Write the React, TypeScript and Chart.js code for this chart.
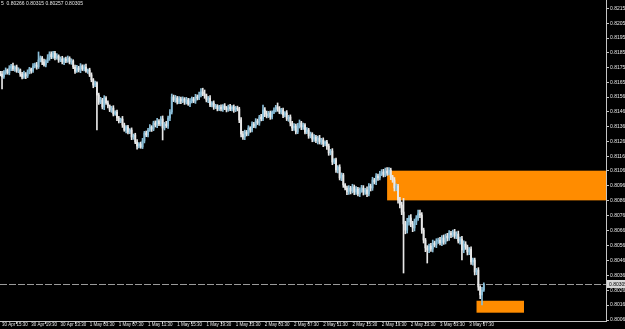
import React, { useEffect, useRef } from "react";
import { Chart, registerables } from "chart.js";

Chart.register(...registerables);

// Prices in points above 0.80000 (1 point = 0.00001), one value per 15-minute bar
const firstOpen = 1720;
const closes = [
  1714, 1695, 1728, 1741, 1722, 1754, 1768, 1748, 1761, 1734,
  1741, 1714, 1694, 1715, 1701, 1728, 1748, 1735, 1768, 1775,
  1762, 1808, 1822, 1795, 1775, 1801, 1822, 1848, 1830, 1855,
  1822, 1835, 1808, 1815, 1795, 1815, 1801, 1821, 1795, 1801,
  1761, 1734, 1755, 1741, 1768, 1748, 1761, 1734, 1741, 1708,
  1675, 1640, 1655, 1573, 1526, 1540, 1493, 1553, 1520, 1500,
  1473, 1486, 1446, 1459, 1419, 1399, 1412, 1372, 1339, 1359,
  1325, 1339, 1292, 1305, 1258, 1231, 1245, 1225, 1265, 1319,
  1305, 1339, 1359, 1345, 1386, 1372, 1399, 1379, 1413, 1352,
  1379, 1366, 1419, 1459, 1560, 1540, 1553, 1526, 1547, 1533,
  1547, 1526, 1540, 1513, 1533, 1547, 1533, 1560, 1553, 1573,
  1594, 1580, 1567, 1540, 1553, 1506, 1520, 1493, 1500, 1480,
  1493, 1480, 1500, 1486, 1473, 1493, 1480, 1493, 1473, 1486,
  1480, 1406, 1312, 1292, 1325, 1312, 1352, 1339, 1379, 1365,
  1399, 1386, 1426, 1413, 1473, 1446, 1433, 1453, 1426, 1459,
  1473, 1493, 1480, 1459, 1473, 1439, 1453, 1413, 1426, 1386,
  1352, 1365, 1325, 1365, 1386, 1359, 1372, 1325, 1339, 1299,
  1312, 1278, 1292, 1265, 1285, 1258, 1272, 1245, 1258, 1231,
  1185, 1198, 1124, 1138, 1071, 1090, 1017, 1037, 970, 950,
  923, 950, 930, 957, 923, 943, 910, 937, 950, 923,
  937, 910, 963, 950, 1004, 990, 1030, 1017, 1044, 1057,
  1037, 1064, 1050, 1070, 1024, 1004, 950, 963, 870, 836,
  789, 709, 668, 722, 749, 709, 682, 722, 749, 776,
  769, 668, 601, 548, 534, 561, 541, 581, 568, 594,
  601, 581, 615, 588, 628, 615, 648, 635, 655, 628,
  641, 594, 608, 534, 574, 554, 521, 540, 454, 467,
  387, 400, 286, 233, 266, 305,
];
const upperWicks = [
  12, 18, 9, 14, 7, 16, 11, 20, 8, 13,
  15, 7, 12, 18, 9, 14, 11, 6, 16, 13,
  17, 54, 13, 10, 19, 9, 22, 15, 15, 12,
  11, 16, 8, 14, 18, 7, 12, 14, 9, 15,
  9, 13, 18, 11, 16, 8, 14, 20, 7, 12,
  14, 9, 12, 7, 13, 18, 11, 16, 9, 14,
  7, 12, 16, 9, 14, 11, 7, 18, 13, 9,
  11, 9, 14, 7, 12, 16, 9, 13, 18, 11,
  13, 11, 16, 9, 12, 14, 18, 9, 16, 20,
  11, 18, 13, 16, 20, 13, 18, 11, 16, 13,
  14, 9, 18, 11, 16, 13, 11, 18, 14, 20,
  22, 25, 27, 13, 11, 16, 9, 14, 11, 9,
  11, 14, 9, 16, 11, 13, 18, 9, 14, 11,
  13, 11, 16, 18, 13, 11, 16, 9, 14, 11,
  16, 13, 11, 18, 33, 16, 20, 11, 13, 9,
  14, 11, 27, 16, 11, 13, 9, 16, 11, 14,
  11, 16, 13, 18, 20, 11, 14, 9, 16, 11,
  13, 9, 16, 11, 13, 18, 11, 14, 9, 11,
  14, 11, 16, 9, 13, 11, 16, 14, 11, 9,
  13, 16, 11, 18, 13, 16, 11, 14, 18, 16,
  11, 20, 16, 13, 18, 11, 16, 14, 18, 16,
  18, 20, 22, 16, 13, 11, 16, 14, 11, 18,
  20, 91, 18, 25, 16, 22, 18, 20, 16, 26,
  26, 16, 13, 11, 16, 13, 18, 20, 13, 16,
  13, 18, 16, 20, 13, 18, 16, 11, 13, 18,
  16, 20, 13, 18, 22, 16, 13, 11, 16, 13,
  13, 11, 16, 9, 18, 10,
];
const lowerWicks = [
  13, 81, 11, 16, 9, 13, 18, 11, 16, 9,
  11, 16, 13, 9, 18, 11, 13, 16, 11, 13,
  16, 11, 13, 18, 9, 13, 11, 16, 13, 11,
  13, 9, 16, 11, 13, 18, 11, 9, 13, 16,
  11, 16, 9, 13, 18, 11, 13, 9, 16, 11,
  13, 18, 11, 234, 16, 11, 13, 18, 9, 13,
  11, 16, 13, 9, 18, 13, 11, 16, 9, 20,
  13, 11, 18, 16, 11, 20, 13, 9, 11, 13,
  11, 13, 9, 16, 11, 13, 18, 11, 13, 80,
  13, 11, 16, 18, 13, 11, 16, 13, 11, 18,
  11, 16, 13, 9, 18, 13, 11, 16, 13, 11,
  13, 11, 16, 13, 18, 11, 13, 16, 11, 13,
  11, 13, 16, 11, 13, 9, 11, 13, 16, 11,
  13, 18, 20, 16, 18, 13, 11, 16, 13, 11,
  13, 11, 16, 13, 11, 18, 13, 11, 16, 13,
  11, 13, 16, 11, 13, 18, 13, 11, 16, 20,
  18, 16, 13, 11, 13, 18, 16, 13, 11, 16,
  13, 18, 16, 11, 20, 13, 16, 18, 13, 22,
  16, 13, 18, 11, 16, 20, 13, 18, 16, 13,
  18, 16, 20, 13, 18, 16, 13, 18, 16, 20,
  16, 18, 13, 20, 16, 13, 18, 16, 13, 11,
  13, 11, 16, 13, 18, 16, 20, 18, 22, 20,
  18, 329, 25, 20, 22, 18, 25, 20, 18, 16,
  18, 22, 20, 25, 87, 18, 16, 20, 13, 18,
  16, 13, 18, 16, 13, 20, 16, 18, 13, 16,
  18, 13, 20, 67, 18, 16, 20, 18, 16, 22,
  20, 18, 22, 25, 67, 9,
];

const symbolLabel = "5";
const timeLabels = [
  "30 Apr 15:30", "30 Apr 19:30", "30 Apr 23:30", "1 May 03:30", "1 May 07:30",
  "1 May 11:30", "1 May 15:30", "1 May 19:30", "1 May 23:30", "2 May 03:30",
  "2 May 07:30", "2 May 11:30", "2 May 15:30", "2 May 19:30", "2 May 23:30",
  "3 May 03:30", "3 May 07:30",
];
const firstLabelBar = 1; // 30 Apr 15:30 is the 2nd bar (first bar 15:15)
const barsPerLabel = 16; // 4 hours of 15-minute bars
const yTickValues = [
  0.8215, 0.82055, 0.81955, 0.81855, 0.81755, 0.81655, 0.8156, 0.8146,
  0.8136, 0.8126, 0.8116, 0.81065, 0.80965, 0.80865, 0.80765, 0.80665,
  0.80565, 0.80465, 0.80365, 0.80265, 0.80165, 0.80065,
];
const yMin = 0.800583;
const yMax = 0.822103;
const xMin = -0.11;
const xMax = 331.94;

// Supply / demand zones: start bar, end bar (null = to right edge), top, bottom price
const zoneStart = [212, 261];
const zoneEnd = [null, 287];
const zoneTop = [0.81066, 0.80194];
const zoneBottom = [0.80867, 0.80114];

const BULL = "#88bcd6";
const BEAR = "#e8e8e8";
const ZONE = "#ff8c00";
const AXIS = "#c4c4c4";
const TEXT = "#e6e6e6";
const FONT = "'Liberation Sans', Arial, sans-serif";

const toPrice = (v: number) => 0.8 + v / 100000;

export default function App() {
  const ref = useRef<HTMLCanvasElement>(null);

  useEffect(() => {
    document.body.style.margin = "0";
    document.body.style.background = "#000";
    const canvas = ref.current;
    if (!canvas) return;

    const opens = closes.map((c, i) => (i === 0 ? firstOpen : closes[i - 1]));
    const highs = closes.map((c, i) => Math.max(opens[i], c) + upperWicks[i]);
    const lows = closes.map((c, i) => Math.min(opens[i], c) - lowerWicks[i]);
    const colors = closes.map((c, i) => (c >= opens[i] ? BULL : BEAR));
    const bodies = closes.map((c, i) => ({ x: i, y: [toPrice(opens[i]), toPrice(c)] }));
    const wicks = closes.map((c, i) => ({ x: i, y: [toPrice(lows[i]), toPrice(highs[i])] }));
    const n = closes.length;
    const lastClose = toPrice(closes[n - 1]);
    const header =
      symbolLabel + "  " +
      [opens[n - 1], highs[n - 1], lows[n - 1], closes[n - 1]]
        .map((v) => toPrice(v).toFixed(5))
        .join(" ");
    const xTickBars = timeLabels.map((_, k) => firstLabelBar + barsPerLabel * k);

    const overlay = {
      id: "overlay",
      beforeDatasetsDraw(chart: any) {
        const { ctx, chartArea: a, scales } = chart;
        const x = scales.x;
        const y = scales.y;
        ctx.save();
        ctx.beginPath();
        ctx.rect(a.left, a.top, a.right - a.left, a.bottom - a.top);
        ctx.clip();
        ctx.fillStyle = ZONE;
        for (let k = 0; k < zoneStart.length; k++) {
          const x1 = x.getPixelForValue(zoneStart[k]);
          const x2 = zoneEnd[k] === null ? a.right : x.getPixelForValue(zoneEnd[k] as number);
          const y1 = y.getPixelForValue(zoneTop[k]);
          const y2 = y.getPixelForValue(zoneBottom[k]);
          ctx.fillRect(x1, y1, x2 - x1, y2 - y1);
        }
        const py = Math.round(y.getPixelForValue(lastClose)) + 0.5;
        ctx.strokeStyle = "#9a9a9a";
        ctx.lineWidth = 1;
        ctx.setLineDash([7, 2]);
        ctx.beginPath();
        ctx.moveTo(a.left, py);
        ctx.lineTo(a.right, py);
        ctx.stroke();
        ctx.restore();
      },
      afterDraw(chart: any) {
        const { ctx, chartArea: a, scales } = chart;
        const y = scales.y;
        ctx.save();
        ctx.font = "5px " + FONT;
        ctx.textBaseline = "top";
        ctx.textAlign = "left";
        ctx.fillStyle = TEXT;
        ctx.fillText(header, 1, 1);
        const py = Math.round(y.getPixelForValue(lastClose));
        ctx.fillStyle = "#d8d8d8";
        ctx.fillRect(a.right + 1, py - 4, 60, 8);
        ctx.fillStyle = "#000";
        ctx.textBaseline = "middle";
        ctx.fillText(lastClose.toFixed(5), a.right + 3, py + 0.5);
        ctx.restore();
      },
    };

    const chart = new Chart(canvas, {
      type: "bar",
      data: {
        datasets: [
          {
            data: bodies as any,
            backgroundColor: colors,
            barThickness: 1.2,
            minBarLength: 1,
            borderWidth: 0,
          },
          {
            data: wicks as any,
            backgroundColor: colors,
            barThickness: 1,
            minBarLength: 1,
            borderWidth: 0,
          },
        ],
      },
      options: {
        animation: false,
        responsive: false,
        devicePixelRatio: 1,
        grouped: false,
        layout: { padding: 0 },
        plugins: { legend: { display: false }, tooltip: { enabled: false }, title: { display: false } },
        scales: {
          x: {
            type: "linear",
            min: xMin,
            max: xMax,
            offset: false,
            grid: { display: true, drawOnChartArea: false, drawTicks: true, tickLength: 3, color: AXIS },
            border: { display: true, color: AXIS, width: 1 },
            ticks: {
              autoSkip: false,
              maxRotation: 0,
              minRotation: 0,
              align: "start",
              padding: -2,
              color: TEXT,
              font: { size: 4.5, family: FONT },
              callback: (_v: any, i: number) => timeLabels[i],
            },
            afterBuildTicks: (s: any) => {
              s.ticks = xTickBars.map((v) => ({ value: v }));
            },
            afterFit: (s: any) => {
              s.height = 8;
              s.paddingLeft = 0;
              s.paddingRight = 0;
              s.paddingTop = 0;
              s.paddingBottom = 0;
            },
          },
          y: {
            type: "linear",
            position: "right",
            min: yMin,
            max: yMax,
            grid: { display: true, drawOnChartArea: false, drawTicks: true, tickLength: 3, color: AXIS },
            border: { display: true, color: AXIS, width: 1 },
            ticks: {
              autoSkip: false,
              padding: 1,
              color: TEXT,
              font: { size: 5, family: FONT },
              callback: (v: any) => Number(v).toFixed(5),
            },
            afterBuildTicks: (s: any) => {
              s.ticks = yTickValues.map((v) => ({ value: v }));
            },
            afterFit: (s: any) => {
              s.width = 54;
              s.paddingLeft = 0;
              s.paddingRight = 0;
              s.paddingTop = 0;
              s.paddingBottom = 0;
            },
          },
        },
      } as any,
      plugins: [overlay],
    });

    return () => chart.destroy();
  }, []);

  return (
    <div style={{ width: 625, height: 329, overflow: "hidden", background: "#000" }}>
      <canvas ref={ref} width={660} height={329} style={{ display: "block" }} />
    </div>
  );
}
